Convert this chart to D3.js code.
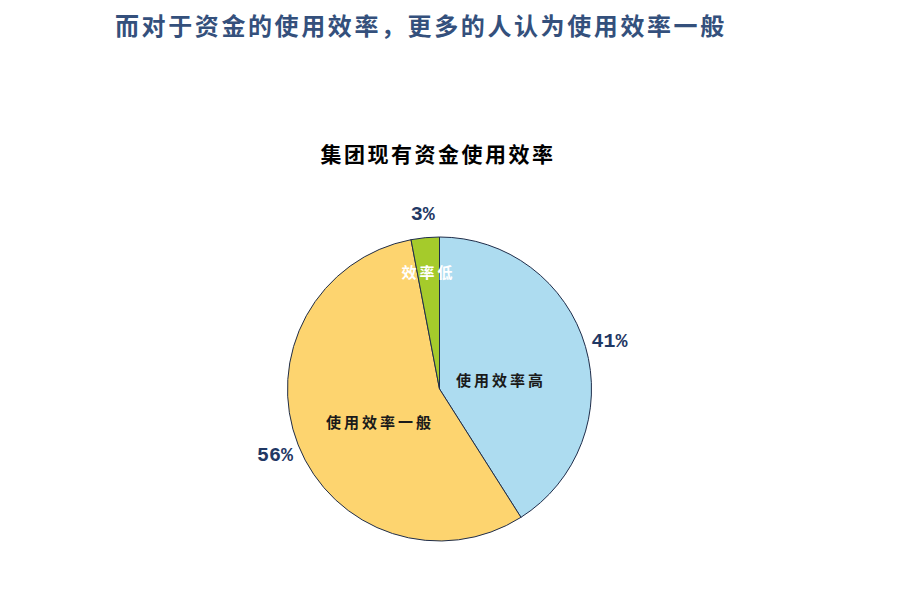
<!DOCTYPE html>
<html><head><meta charset="utf-8">
<script src="https://cdn.jsdelivr.net/npm/d3@7"></script>
<style>body{margin:0;background:#fff;}svg{display:block;}</style>
</head><body>
<svg id="c" width="903" height="603"></svg>
<script>
const heading = "而对于资金的使用效率，更多的人认为使用效率一般";
const chartTitle = "集团现有资金使用效率";
const categories = ["使用效率高", "使用效率一般", "效率低"];
const values = [41, 56, 3];
const colors = ["#ADDCF0", "#FDD46F", "#A5CB2B"];
const innerTextColors = ["#1a1a1a", "#1a1a1a", "#ffffff"];

const svg = d3.select("#c");
const cjk = "'Noto Sans CJK SC','Noto Sans CJK JP',sans-serif";

svg.append("text").attr("x", 115).attr("y", 35)
  .attr("font-family", cjk).attr("font-size", 24).attr("font-weight", 700)
  .attr("letter-spacing", 2.6).attr("fill", "#34507C").text(heading);

svg.append("text").attr("x", 438).attr("y", 162).attr("text-anchor", "middle")
  .attr("font-family", cjk).attr("font-size", 21).attr("font-weight", 700)
  .attr("letter-spacing", 2.5).attr("fill", "#000").text(chartTitle);

const cx = 439.5, cy = 389, R = 152;
const g = svg.append("g").attr("transform", `translate(${cx},${cy})`);
const pie = d3.pie().sort(null).value(d => d)(values);
const arc = d3.arc().innerRadius(0).outerRadius(R);

g.selectAll("path.s").data(pie).join("path").attr("class", "s")
  .attr("d", arc).attr("fill", (d, i) => colors[i])
  .attr("stroke", "#1F2D4A").attr("stroke-width", 1);

const outerLab = d3.arc().innerRadius(177).outerRadius(177);
g.selectAll("text.p").data(pie).join("text").attr("class", "p")
  .attr("transform", d => `translate(${outerLab.centroid(d)})`)
  .attr("text-anchor", "middle").attr("dy", "0.36em")
  .attr("font-family", "'Liberation Mono','DejaVu Sans Mono',monospace").attr("font-size", 20)
  .attr("font-weight", 700)
  .attr("fill", "#1F3864").text(d => d.data + "%");

const isSmall = d => (d.endAngle - d.startAngle) < 0.5;
const innerLab = d => {
  const r = isSmall(d) ? 117 : 64;
  const c = d3.arc().innerRadius(r).outerRadius(r).centroid(d);
  return [c[0], c[1] + (isSmall(d) ? 0 : 10)];
};
g.selectAll("text.n").data(pie).join("text").attr("class", "n")
  .attr("transform", d => `translate(${innerLab(d)})`)
  .attr("text-anchor", "middle").attr("dy", "0.35em")
  .attr("font-family", cjk).attr("font-size", 15).attr("font-weight", 700)
  .attr("letter-spacing", 3)
  .attr("fill", (d, i) => innerTextColors[i]).text((d, i) => categories[i]);
</script>
</body></html>
